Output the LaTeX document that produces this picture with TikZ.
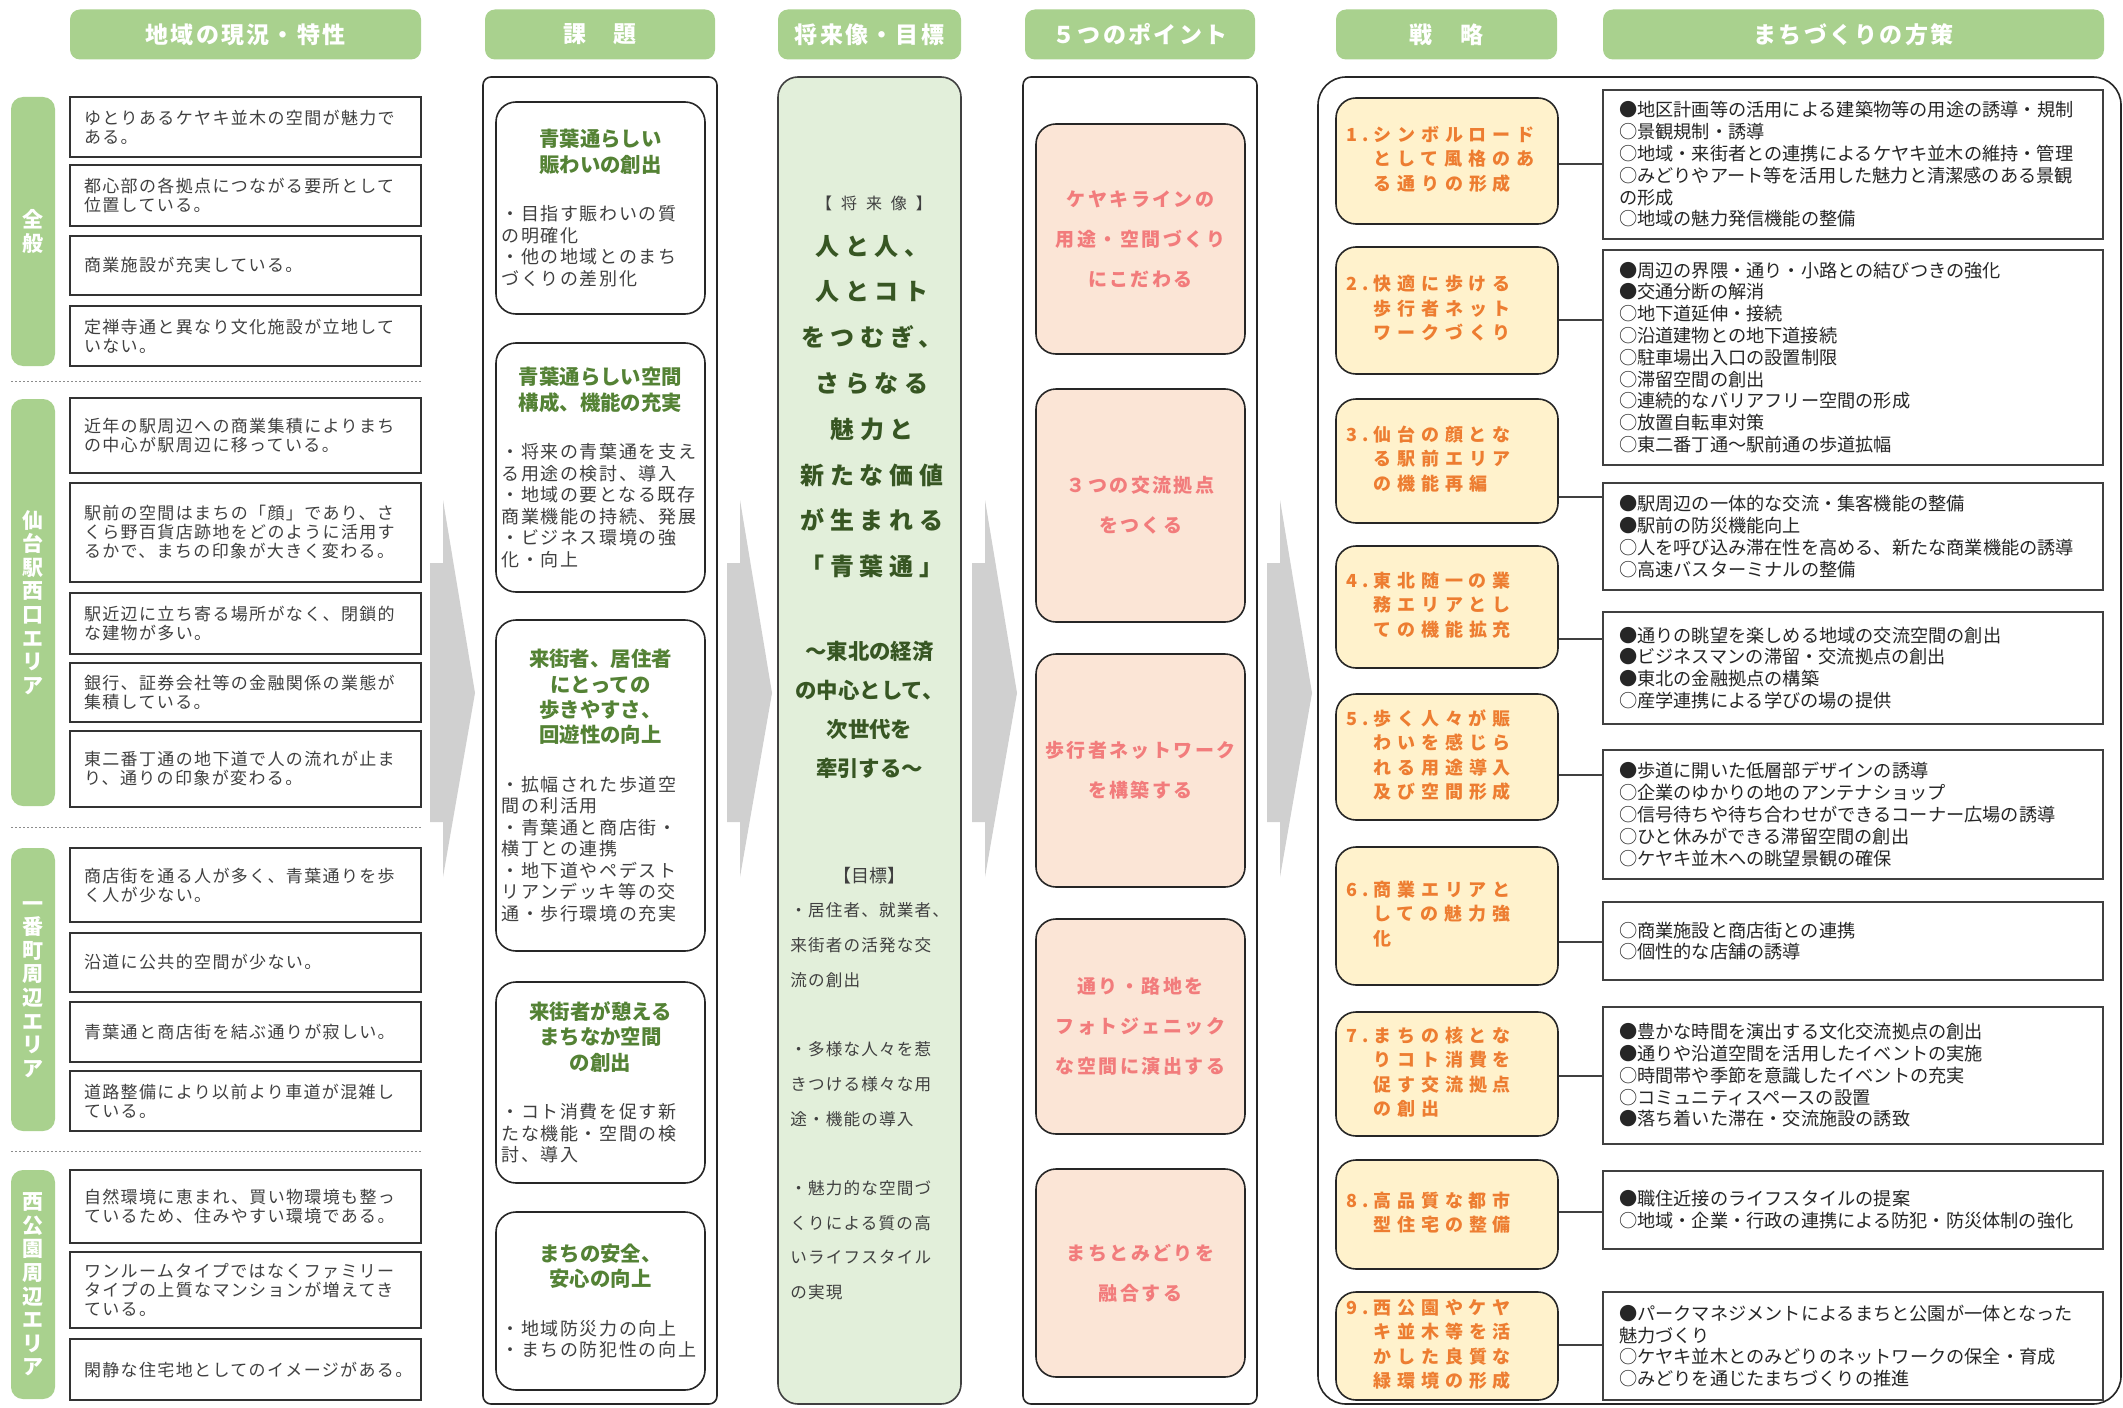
\documentclass[tikz,border=0pt]{standalone}
\usepackage{fontspec}
\setmainfont{Noto Sans CJK JP}
\newfontfamily\hdfont{Noto Sans CJK JP}[LetterSpace=10]
\newfontfamily\genfont{Noto Sans CJK JP}[LetterSpace=8]
\newfontfamily\kadaifont{Noto Sans CJK JP}[LetterSpace=9]
\newfontfamily\bigfont{Noto Sans CJK JP}[LetterSpace=24]
\newfontfamily\lblfont{Noto Sans CJK JP}[LetterSpace=56]
\newfontfamily\goalfont{Noto Sans CJK JP}[LetterSpace=7]
\newfontfamily\pointfont{Noto Sans CJK JP}[LetterSpace=13]
\newfontfamily\stratfont{Noto Sans CJK JP}[LetterSpace=33]

\definecolor{hdgreen}{HTML}{A9D18E}
\definecolor{txtgray}{HTML}{404040}
\definecolor{futfill}{HTML}{E2EFDA}
\definecolor{futtext}{HTML}{375623}
\definecolor{kadaigreen}{HTML}{548235}
\definecolor{pinkfill}{HTML}{FBE5D6}
\definecolor{pinktext}{HTML}{F27C7C}
\definecolor{stfill}{HTML}{FFF2CC}
\definecolor{sttext}{HTML}{ED7D31}
\definecolor{arrowgray}{HTML}{D0D0D0}

\tikzset{
  every node/.style={inner sep=0pt},
  hd/.style={fill=hdgreen, rounded corners=5pt, minimum height=25pt, text=white,
    font=\hdfont\bfseries\fontsize{11.5}{13}\selectfont},
  side/.style={fill=hdgreen, rounded corners=6pt, minimum width=22pt, text=white, align=center,
    font=\bfseries\fontsize{10.5}{11.8}\selectfont},
  cbox/.style={draw=black!80, line width=0.8pt, fill=white, text width=161.5pt, inner xsep=7pt,
    align=left, text=txtgray, font=\genfont\fontsize{8.5}{9.5}\selectfont},
  frame/.style={draw=black!85, line width=0.8pt, fill=white, rounded corners=4pt, minimum height=663.5pt},
  kbox/.style={draw=black!85, line width=0.8pt, fill=white, rounded corners=10pt, minimum width=104.5pt},
  pbox/.style={draw=black!85, line width=0.8pt, fill=pinkfill, rounded corners=10pt, minimum width=104.5pt,
    text=pinktext, align=center, font=\pointfont\bfseries\fontsize{9.5}{20}\selectfont},
  sbox/.style={draw=black!85, line width=0.8pt, fill=stfill, rounded corners=10pt, text width=101pt,
    inner xsep=5pt, align=left, text=sttext, font=\stratfont\bfseries\fontsize{9}{12.2}\selectfont},
  mbox/.style={draw=black!75, line width=0.8pt, fill=white, text width=234pt, inner xsep=8pt,
    align=left, text=black!85, font=\fontsize{9.1}{10.9}\selectfont},
  conn/.style={draw=black!75, line width=0.8pt},
  sep/.style={draw=black!45, line width=0.5pt, dash pattern=on 1.2pt off 0.8pt},
  bigarrow/.style={fill=arrowgray}
}

\begin{document}
\begin{tikzpicture}[x=0.5pt,y=-0.5pt]
  \useasboundingbox (0,0) rectangle (2123,1407);
  \fill[white] (0,0) rectangle (2123,1407);

  \foreach \x in {430,727,972,1267}
    \fill[bigarrow] (\x,563) -- (\x+13,563) -- (\x+13,500) -- (\x+45,693) -- (\x+13,877) -- (\x+13,822) -- (\x,822) -- cycle;

  \node[hd, minimum width=175.5pt] (h1) at (245.5,34.5) {地域の現況・特性};
  \node[hd, minimum width=115pt] (h2) at (600,34.5) {課　題};
  \node[hd, minimum width=91.5pt] (h3) at (869.5,34.5) {将来像・目標};
  \node[hd, minimum width=115pt] (h4) at (1140,34.5) {５つのポイント};
  \node[hd, minimum width=110.5pt] (h5) at (1446.5,34.5) {戦　略};
  \node[hd, minimum width=250.5pt] (h6) at (1853.5,34.5) {まちづくりの方策};

  \node[side, minimum height=134.5pt] (l1) at (33,231.5) {全\\般};
  \node[side, minimum height=203.5pt] (l2) at (33,602.5) {仙\\台\\駅\\西\\口\\エ\\リ\\ア};
  \node[side, minimum height=141.5pt] (l3) at (33,989.5) {一\\番\\町\\周\\辺\\エ\\リ\\ア};
  \node[side, minimum height=114.5pt] (l4) at (33,1284.5) {西\\公\\園\\周\\辺\\エ\\リ\\ア};
  \foreach \y in {381,827,1151}
    \draw[sep] (11,\y) -- (421,\y);

  \foreach \n/\a/\b/\txt in {
    1/97/157/{ゆとりあるケヤキ並木の空間が魅力で\\ある。},
    2/165/226/{都心部の各拠点につながる要所として\\位置している。},
    3/236/295/{商業施設が充実している。},
    4/306/366/{定禅寺通と異なり文化施設が立地して\\いない。},
    5/398/473/{近年の駅周辺への商業集積によりまち\\の中心が駅周辺に移っている。},
    6/483/582/{駅前の空間はまちの「顔」であり、さ\\くら野百貨店跡地をどのように活用す\\るかで、まちの印象が大きく変わる。},
    7/593/654/{駅近辺に立ち寄る場所がなく、閉鎖的\\な建物が多い。},
    8/663/722/{銀行、証券会社等の金融関係の業態が\\集積している。},
    9/731/807/{東二番丁通の地下道で人の流れが止ま\\り、通りの印象が変わる。},
    10/848/922/{商店街を通る人が多く、青葉通りを歩\\く人が少ない。},
    11/933/992/{沿道に公共的空間が少ない。},
    12/1002/1062/{青葉通と商店街を結ぶ通りが寂しい。},
    13/1071/1131/{道路整備により以前より車道が混雑し\\ている。},
    14/1170/1243/{自然環境に恵まれ、買い物環境も整っ\\ているため、住みやすい環境である。},
    15/1252/1328/{ワンルームタイプではなくファミリー\\タイプの上質なマンションが増えてき\\ている。},
    16/1339/1400/{閑静な住宅地としてのイメージがある。}}{
    \pgfmathsetmacro\cy{(\a+\b)/2}
    \pgfmathsetmacro\bh{(\b-\a)/2}
    \node[cbox, minimum height=\bh pt] (g\n) at (245.5,\cy) {\txt};
  }

  \node[frame, minimum width=117pt] (kadai) at (600,740.5) {};
  \foreach \n/\a/\b/\ttl/\bdy in {
    1/102/314/{青葉通らしい\\賑わいの創出}/{・目指す賑わいの質\\の明確化\\・他の地域とのまち\\づくりの差別化},
    2/343/592/{青葉通らしい空間\\構成、機能の充実}/{・将来の青葉通を支え\\る用途の検討、導入\\・地域の要となる既存\\商業機能の持続、発展\\・ビジネス環境の強\\化・向上},
    3/620/951/{来街者、居住者\\にとっての\\歩きやすさ、\\回遊性の向上}/{・拡幅された歩道空\\間の利活用\\・青葉通と商店街・\\横丁との連携\\・地下道やペデスト\\リアンデッキ等の交\\通・歩行環境の充実},
    4/982/1183/{来街者が憩える\\まちなか空間\\の創出}/{・コト消費を促す新\\たな機能・空間の検\\討、導入},
    5/1212/1390/{まちの安全、\\安心の向上}/{・地域防災力の向上\\・まちの防犯性の向上}}{
    \pgfmathsetmacro\cy{(\a+\b)/2}
    \pgfmathsetmacro\bh{(\b-\a)/2}
    \node[kbox, minimum height=\bh pt] (k\n) at (600.5,\cy) {\parbox{99pt}{%
      {\centering\color{kadaigreen}\bfseries\fontsize{10.2}{12.6}\selectfont\ttl\par}%
      \vspace{13.5pt}%
      {\kadaifont\fontsize{9}{10.75}\selectfont\color{txtgray}\bdy\par}}};
  }

  \node[frame, fill=futfill, draw=black!75, rounded corners=10pt, minimum width=91.5pt] (fut) at (869.5,740.5) {};
  \node[text=txtgray, font=\lblfont\fontsize{8}{9}\selectfont] (fut-lbl) at (874,203) {【将来像】};
  \node[align=center, text=futtext, font=\bigfont\bfseries\fontsize{12}{22.9}\selectfont] (fut-main) at (872,406.5)
    {人と人、\\人とコト\\をつむぎ、\\さらなる\\魅力と\\新たな価値\\が生まれる\\「青葉通」};
  \node[align=center, text=futtext, font=\bfseries\fontsize{10.7}{19.5}\selectfont] (fut-sub) at (869.5,709.5)
    {～東北の経済\\の中心として、\\次世代を\\牽引する～};
  \node[text=txtgray, font=\fontsize{9}{10}\selectfont] (goal-lbl) at (869.5,876) {【目標】};
  \node[anchor=west, align=left, text=txtgray, font=\goalfont\fontsize{8.3}{17.35}\selectfont] (goal) at (790,1101.5)
    {・居住者、就業者、\\来街者の活発な交\\流の創出\\[17.35pt]・多様な人々を惹\\きつける様々な用\\途・機能の導入\\[17.35pt]・魅力的な空間づ\\くりによる質の高\\いライフスタイル\\の実現};

  \node[frame, minimum width=117pt] (point) at (1140,740.5) {};
  \foreach \n/\a/\b/\txt in {
    1/124/354/{ケヤキラインの\\用途・空間づくり\\にこだわる},
    2/389/622/{３つの交流拠点\\をつくる},
    3/654/887/{歩行者ネットワーク\\を構築する},
    4/919/1134/{通り・路地を\\フォトジェニック\\な空間に演出する},
    5/1169/1377/{まちとみどりを\\融合する}}{
    \pgfmathsetmacro\cy{(\a+\b)/2}
    \pgfmathsetmacro\bh{(\b-\a)/2}
    \node[pbox, minimum height=\bh pt] (p\n) at (1140.5,\cy) {\txt};
  }

  \node[frame, rounded corners=14pt, minimum width=401.5pt] (senryaku) at (1719.5,740.5) {};
  \foreach \n/\a/\b/\txt in {
    1/98/224/{シンボルロード\\&として風格のあ\\&る通りの形成},
    2/247/374/{快適に歩ける\\&歩行者ネット\\&ワークづくり},
    3/399/523/{仙台の顔とな\\&る駅前エリア\\&の機能再編},
    4/546/668/{東北随一の業\\&務エリアとし\\&ての機能拡充},
    5/694/820/{歩く人々が賑\\&わいを感じら\\&れる用途導入\\&及び空間形成},
    6/847/985/{商業エリアと\\&しての魅力強\\&化},
    7/1012/1136/{まちの核とな\\&りコト消費を\\&促す交流拠点\\&の創出},
    8/1160/1269/{高品質な都市\\&型住宅の整備},
    9/1292/1400/{西公園やケヤ\\&キ並木等を活\\&かした良質な\\&緑環境の形成}}{
    \pgfmathsetmacro\cy{(\a+\b)/2}
    \pgfmathsetmacro\bh{(\b-\a)/2}
    \node[sbox, minimum height=\bh pt] (s\n) at (1447,\cy)
      {\begin{tabular}{@{}l@{}l@{}}\n.\kern2pt&\txt\end{tabular}};
  }

  \foreach \n/\a/\b/\c/\txt in {
    1/90/239/164/{●地区計画等の活用による建築物等の用途の誘導・規制\\○景観規制・誘導\\○地域・来街者との連携によるケヤキ並木の維持・管理\\○みどりやアート等を活用した魅力と清潔感のある景観\\の形成\\○地域の魅力発信機能の整備},
    2/250/465/320/{●周辺の界隈・通り・小路との結びつきの強化\\●交通分断の解消\\○地下道延伸・接続\\○沿道建物との地下道接続\\○駐車場出入口の設置制限\\○滞留空間の創出\\○連続的なバリアフリー空間の形成\\○放置自転車対策\\○東二番丁通～駅前通の歩道拡幅},
    3/483/590/497/{●駅周辺の一体的な交流・集客機能の整備\\●駅前の防災機能向上\\○人を呼び込み滞在性を高める、新たな商業機能の誘導\\○高速バスターミナルの整備},
    4/612/724/639/{●通りの眺望を楽しめる地域の交流空間の創出\\●ビジネスマンの滞留・交流拠点の創出\\●東北の金融拠点の構築\\○産学連携による学びの場の提供},
    5/750/879/775/{●歩道に開いた低層部デザインの誘導\\○企業のゆかりの地のアンテナショップ\\○信号待ちや待ち合わせができるコーナー広場の誘導\\○ひと休みができる滞留空間の創出\\○ケヤキ並木への眺望景観の確保},
    6/902/980/942/{○商業施設と商店街との連携\\○個性的な店舗の誘導},
    7/1007/1144/1076/{●豊かな時間を演出する文化交流拠点の創出\\●通りや沿道空間を活用したイベントの実施\\○時間帯や季節を意識したイベントの充実\\○コミュニティスペースの設置\\●落ち着いた滞在・交流施設の誘致},
    8/1171/1249/1212/{●職住近接のライフスタイルの提案\\○地域・企業・行政の連携による防犯・防災体制の強化},
    9/1292/1400/1345/{●パークマネジメントによるまちと公園が一体となった\\魅力づくり\\○ケヤキ並木とのみどりのネットワークの保全・育成\\○みどりを通じたまちづくりの推進}}{
    \pgfmathsetmacro\cy{(\a+\b)/2}
    \pgfmathsetmacro\bh{(\b-\a)/2}
    \node[mbox, minimum height=\bh pt] (m\n) at (1853,\cy) {\txt};
    \coordinate (c\n) at (1580,\c);
    \draw[conn] (s\n.east |- c\n) -- (m\n.west |- c\n);
  }
\end{tikzpicture}
\end{document}
